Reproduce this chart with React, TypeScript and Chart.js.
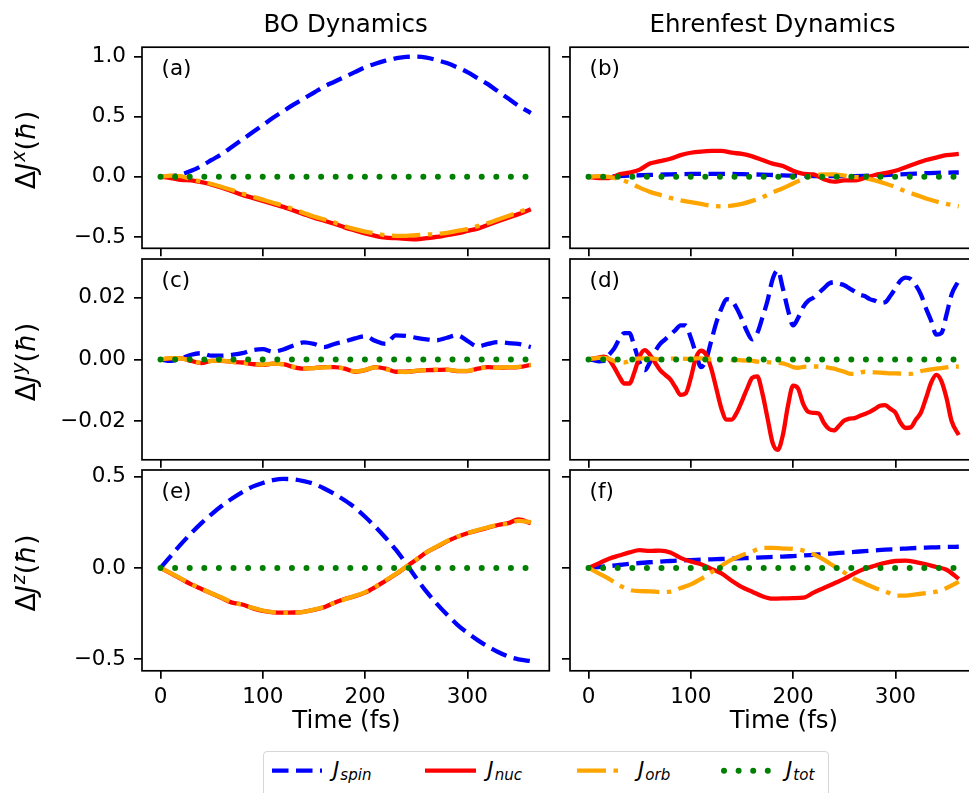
import React, { useEffect, useRef } from "react";
import { Chart, registerables } from "chart.js";

Chart.register(...registerables);
Chart.defaults.font.family = "'DejaVu Sans', sans-serif";

// ---------------- data ----------------
const T10 = [0, 10, 20, 30, 40, 50, 60, 70, 80, 90, 100, 110, 120, 130, 140, 150, 160, 170, 180, 190, 200, 210, 220, 230, 240, 250, 260, 270, 280, 290, 300, 310, 320, 330, 340, 350, 362];
const T5 = [0, 5, 10, 15, 20, 25, 30, 35, 40, 45, 50, 55, 60, 65, 70, 75, 80, 85, 90, 95, 100, 105, 110, 115, 120, 125, 130, 135, 140, 145, 150, 155, 160, 165, 170, 175, 180, 185, 190, 195, 200, 205, 210, 215, 220, 225, 230, 235, 240, 245, 250, 255, 260, 265, 270, 275, 280, 285, 290, 295, 300, 305, 310, 315, 320, 325, 330, 335, 340, 345, 350, 355, 362];

const TOT = [0, 0, 0, 0, 0, 0, 0, 0, 0, 0, 0, 0, 0, 0, 0, 0, 0, 0, 0, 0, 0, 0, 0, 0, 0, 0, 0, 0, 0, 0, 0, 0, 0, 0, 0, 0, 0];

// (a) BO, x
const aSpin = [0, 0.005, 0.02, 0.05, 0.09, 0.14, 0.19, 0.25, 0.31, 0.37, 0.43, 0.49, 0.545, 0.6, 0.65, 0.7, 0.75, 0.79, 0.83, 0.87, 0.91, 0.94, 0.965, 0.985, 0.997, 0.998, 0.99, 0.97, 0.945, 0.91, 0.87, 0.82, 0.77, 0.71, 0.65, 0.59, 0.53];
const aNuc = [0, -0.01, -0.025, -0.03, -0.045, -0.065, -0.09, -0.12, -0.15, -0.175, -0.2, -0.225, -0.25, -0.28, -0.31, -0.34, -0.365, -0.39, -0.42, -0.445, -0.47, -0.49, -0.505, -0.51, -0.515, -0.52, -0.51, -0.5, -0.485, -0.47, -0.45, -0.43, -0.4, -0.37, -0.34, -0.31, -0.27];
const aOrb = [0, 0.01, 0.005, -0.02, -0.04, -0.06, -0.085, -0.11, -0.14, -0.165, -0.19, -0.215, -0.24, -0.27, -0.3, -0.33, -0.355, -0.38, -0.41, -0.435, -0.455, -0.47, -0.485, -0.49, -0.49, -0.485, -0.48, -0.475, -0.465, -0.45, -0.435, -0.41, -0.385, -0.355, -0.325, -0.295, -0.255];

// (b) Ehrenfest, x
const bSpin = [0, 0, 0.003, 0.006, 0.01, 0.013, 0.016, 0.018, 0.02, 0.022, 0.024, 0.025, 0.025, 0.025, 0.024, 0.022, 0.02, 0.018, 0.015, 0.012, 0.01, 0.008, 0.006, 0.005, 0.005, 0.005, 0.006, 0.008, 0.011, 0.015, 0.019, 0.023, 0.027, 0.03, 0.033, 0.035, 0.036];
const bNuc = [0, -0.01, -0.01, 0.02, 0.035, 0.06, 0.11, 0.13, 0.15, 0.18, 0.2, 0.21, 0.215, 0.215, 0.2, 0.19, 0.17, 0.14, 0.11, 0.09, 0.05, 0.025, 0.02, -0.02, -0.04, -0.03, -0.03, -0.01, 0.015, 0.03, 0.05, 0.08, 0.11, 0.14, 0.16, 0.18, 0.19];
const bOrb = [0, 0.005, 0, -0.02, -0.05, -0.09, -0.125, -0.15, -0.175, -0.195, -0.21, -0.225, -0.24, -0.245, -0.24, -0.225, -0.2, -0.17, -0.13, -0.095, -0.055, -0.02, 0.01, 0.02, 0.02, 0.01, 0, -0.01, -0.03, -0.055, -0.085, -0.12, -0.15, -0.18, -0.205, -0.225, -0.245];

// (c) BO, y
const cSpin = [0, -0.0005, 0.0003, 0.0015, 0.002, 0.0012, 0.0012, 0.0015, 0.002, 0.003, 0.0033, 0.0025, 0.0032, 0.0045, 0.0055, 0.005, 0.004, 0.005, 0.0058, 0.0068, 0.0075, 0.006, 0.005, 0.0078, 0.0076, 0.007, 0.0065, 0.0062, 0.007, 0.0078, 0.006, 0.0042, 0.005, 0.0056, 0.0053, 0.005, 0.004];
const cNuc = [0, 0.0003, 0.0003, -0.0005, -0.0012, -0.0005, -0.0005, -0.0008, -0.001, -0.0015, -0.0018, -0.0014, -0.0015, -0.0025, -0.003, -0.0028, -0.0025, -0.0025, -0.003, -0.004, -0.0035, -0.0025, -0.003, -0.004, -0.004, -0.0037, -0.0035, -0.0034, -0.0033, -0.0038, -0.0038, -0.003, -0.0025, -0.0027, -0.0026, -0.0025, -0.0018];
const cOrb = [0, 0.0004, 0.0003, -0.0004, -0.0011, -0.0005, -0.0004, -0.0008, -0.0011, -0.0015, -0.0017, -0.0014, -0.0016, -0.0024, -0.0029, -0.0028, -0.0026, -0.0024, -0.003, -0.0039, -0.0034, -0.0026, -0.0031, -0.0039, -0.0041, -0.0036, -0.0035, -0.0033, -0.0033, -0.0037, -0.0037, -0.003, -0.0026, -0.0027, -0.0025, -0.0024, -0.0018];

// (d) Ehrenfest, y  (sampled every 5 fs)
const dSpin = [0, -0.0002, -0.0006, -0.0005, 0.0015, 0.0035, 0.0065, 0.0085, 0.0085, 0.004, -0.001, -0.0035, -0.001, 0.0025, 0.005, 0.0065, 0.008, 0.0095, 0.011, 0.011, 0.007, 0.002, -0.0025, 0.0, 0.006, 0.012, 0.0165, 0.0195, 0.019, 0.0165, 0.013, 0.009, 0.0065, 0.0085, 0.0135, 0.019, 0.026, 0.0288, 0.023, 0.016, 0.011, 0.0135, 0.017, 0.019, 0.02, 0.0215, 0.023, 0.0245, 0.025, 0.0245, 0.024, 0.023, 0.022, 0.021, 0.0205, 0.0195, 0.019, 0.0183, 0.0185, 0.0205, 0.023, 0.0255, 0.0265, 0.026, 0.024, 0.021, 0.0165, 0.0125, 0.008, 0.0085, 0.0145, 0.021, 0.0255];
const dNuc = [0, 0.0003, 0.0006, 0.0009, 0.0, -0.0025, -0.0055, -0.0078, -0.0078, -0.004, 0.001, 0.003, 0.0015, -0.001, -0.0035, -0.005, -0.0065, -0.009, -0.0115, -0.011, -0.006, 0.0005, 0.0028, 0.0015, -0.003, -0.0095, -0.016, -0.0195, -0.0195, -0.0172, -0.0135, -0.0095, -0.006, -0.0055, -0.011, -0.019, -0.027, -0.0293, -0.0245, -0.015, -0.0085, -0.0095, -0.0145, -0.017, -0.0173, -0.0175, -0.0205, -0.0225, -0.023, -0.0215, -0.0198, -0.0192, -0.019, -0.0183, -0.0177, -0.017, -0.016, -0.015, -0.0148, -0.016, -0.0172, -0.0205, -0.0222, -0.022, -0.0195, -0.0172, -0.0125, -0.0075, -0.005, -0.007, -0.0125, -0.02, -0.0245];
const dOrb = [0, 0.0003, 0.0005, 0.0005, 0.0002, -0.0005, -0.001, -0.001, -0.0005, 0.0001, 0.0003, 0.0003, 0.0003, 0.0002, 0, 0, 0.0002, 0.0003, 0.0003, 0.0002, 0.0002, 0.0003, 0.0003, 0.0002, 0, 0, 0, 0, -0.0002, -0.0002, -0.0003, -0.0004, -0.0005, -0.0007, -0.0008, -0.0009, -0.001, -0.0011, -0.0013, -0.0018, -0.0025, -0.0027, -0.0024, -0.0023, -0.0023, -0.0023, -0.0024, -0.0027, -0.003, -0.0035, -0.004, -0.0046, -0.0047, -0.0043, -0.004, -0.0041, -0.0042, -0.0043, -0.0044, -0.0045, -0.0045, -0.0046, -0.0047, -0.0047, -0.0043, -0.0038, -0.0035, -0.0032, -0.003, -0.0028, -0.0026, -0.0024, -0.0023];

// (e) BO, z
const eSpin = [0, 0.065, 0.13, 0.19, 0.245, 0.295, 0.34, 0.38, 0.415, 0.445, 0.465, 0.48, 0.487, 0.485, 0.475, 0.46, 0.435, 0.405, 0.37, 0.33, 0.28, 0.225, 0.165, 0.1, 0.025, -0.055, -0.13, -0.195, -0.255, -0.31, -0.355, -0.395, -0.43, -0.46, -0.485, -0.5, -0.51];
const eNuc = [0, -0.03, -0.06, -0.09, -0.115, -0.14, -0.165, -0.19, -0.2, -0.22, -0.235, -0.243, -0.245, -0.244, -0.24, -0.23, -0.215, -0.19, -0.17, -0.155, -0.135, -0.105, -0.07, -0.035, 0.005, 0.045, 0.085, 0.115, 0.145, 0.17, 0.19, 0.205, 0.22, 0.235, 0.245, 0.265, 0.245];
const eOrb = [0, -0.028, -0.058, -0.088, -0.113, -0.14, -0.163, -0.188, -0.202, -0.218, -0.233, -0.242, -0.246, -0.245, -0.24, -0.228, -0.213, -0.19, -0.172, -0.153, -0.133, -0.103, -0.068, -0.033, 0.006, 0.046, 0.085, 0.117, 0.147, 0.17, 0.19, 0.207, 0.222, 0.237, 0.242, 0.258, 0.25];

// (f) Ehrenfest, z
const fSpin = [0, 0.005, 0.01, 0.016, 0.022, 0.027, 0.031, 0.035, 0.038, 0.041, 0.043, 0.045, 0.047, 0.049, 0.051, 0.053, 0.055, 0.058, 0.06, 0.062, 0.065, 0.068, 0.072, 0.076, 0.08, 0.084, 0.088, 0.092, 0.096, 0.1, 0.103, 0.106, 0.109, 0.111, 0.113, 0.115, 0.116];
const fNuc = [0, 0.025, 0.05, 0.068, 0.085, 0.097, 0.093, 0.095, 0.085, 0.055, 0.035, 0.02, -0.005, -0.03, -0.07, -0.105, -0.13, -0.155, -0.168, -0.167, -0.165, -0.163, -0.135, -0.11, -0.085, -0.06, -0.03, -0.005, 0.012, 0.028, 0.038, 0.04, 0.032, 0.02, 0.005, -0.01, -0.06];
const fOrb = [0, -0.03, -0.06, -0.095, -0.12, -0.127, -0.128, -0.132, -0.13, -0.11, -0.09, -0.06, -0.025, 0.012, 0.045, 0.07, 0.09, 0.11, 0.11, 0.106, 0.104, 0.095, 0.075, 0.045, 0.01, -0.025, -0.06, -0.085, -0.11, -0.128, -0.15, -0.152, -0.145, -0.138, -0.13, -0.11, -0.075];

// axes
const X_RANGE = [-18.1, 380.1];
const X_TICKS = [0, 100, 200, 300];
const Y_RANGES = [[-0.594, 1.077], [-0.0325, 0.0325], [-0.563, 0.536]];
const Y_TICKS = [[-0.5, 0, 0.5, 1.0], [-0.02, 0, 0.02], [-0.5, 0, 0.5]];
const Y_DECIMALS = [1, 2, 1];
const COLUMN_TITLES = ["BO Dynamics", "Ehrenfest Dynamics"];
const Y_COMPONENTS = ["x", "y", "z"];
const PANEL_LETTERS = ["(a)", "(b)", "(c)", "(d)", "(e)", "(f)"];

// ---------------- layout ----------------
const COLS = [[142, 549.3], [570, 977.3]];
const ROWS = [[47.2, 248.3], [259, 459.8], [470, 670.8]];
const CW = 1000;
const CH = 800;
const FAM = "'DejaVu Sans', sans-serif";
const TICK_FS = 21.5;
const LABEL_FS = 24.5;
const YLABEL_FS = 27;

type Series = [number[], number[]];
interface PanelDef { row: number; col: number; spin: Series; nuc: Series; orb: Series; tot: Series; }

const PANELS: PanelDef[] = [
  { row: 0, col: 0, spin: [T10, aSpin], nuc: [T10, aNuc], orb: [T10, aOrb], tot: [T10, TOT] },
  { row: 0, col: 1, spin: [T10, bSpin], nuc: [T10, bNuc], orb: [T10, bOrb], tot: [T10, TOT] },
  { row: 1, col: 0, spin: [T10, cSpin], nuc: [T10, cNuc], orb: [T10, cOrb], tot: [T10, TOT] },
  { row: 1, col: 1, spin: [T5, dSpin], nuc: [T5, dNuc], orb: [T5, dOrb], tot: [T10, TOT] },
  { row: 2, col: 0, spin: [T10, eSpin], nuc: [T10, eNuc], orb: [T10, eOrb], tot: [T10, TOT] },
  { row: 2, col: 1, spin: [T10, fSpin], nuc: [T10, fNuc], orb: [T10, fOrb], tot: [T10, TOT] },
];

const boxPlugin = {
  id: "panelBox",
  afterDraw(chart: any) {
    const { left, top, right, bottom } = chart.chartArea;
    const ctx = chart.ctx;
    ctx.save();
    ctx.strokeStyle = "#000";
    ctx.lineWidth = 1.7;
    ctx.strokeRect(left, top, right - left, bottom - top);
    ctx.restore();
  },
};

function fmt(v: number, d: number) {
  const s = Math.abs(v).toFixed(d);
  return v < -1e-12 ? "\u2212" + s : s;
}

function PanelChart({ p }: { p: PanelDef }) {
  const ref = useRef<HTMLCanvasElement>(null);
  useEffect(() => {
    const [cl, cr] = COLS[p.col];
    const [rt, rb] = ROWS[p.row];
    const AXY = 120;
    const AXX = 45;
    const mk = (s: Series) => s[0].map((x, i) => ({ x, y: s[1][i] }));
    const tickGrid = {
      drawOnChartArea: false,
      drawTicks: true,
      tickLength: 8,
      tickWidth: 1.7,
      lineWidth: 1.7,
      color: "#000",
      tickColor: "#000",
    };
    const chart = new Chart(ref.current as HTMLCanvasElement, {
      type: "line",
      data: {
        datasets: [
          { data: mk(p.tot), borderColor: "#008000", borderWidth: 6, borderDash: [0, 14.6], borderCapStyle: "round", order: 0 },
          { data: mk(p.orb), borderColor: "#ffa500", borderWidth: 4.3, borderDash: [28.5, 7.5, 4.5, 7.5], order: 1 },
          { data: mk(p.nuc), borderColor: "#ff0000", borderWidth: 4.3, order: 2 },
          { data: mk(p.spin), borderColor: "#0000ff", borderWidth: 4.3, borderDash: [16.5, 7.5], order: 3 },
        ] as any,
      },
      options: {
        responsive: false,
        animation: false,
        events: [],
        layout: { padding: { left: cl - AXY, right: CW - cr, top: rt, bottom: CH - rb - AXX } },
        elements: { point: { radius: 0 }, line: { cubicInterpolationMode: "monotone", fill: false } },
        plugins: { legend: { display: false }, tooltip: { enabled: false } },
        scales: {
          x: {
            type: "linear",
            min: X_RANGE[0],
            max: X_RANGE[1],
            afterFit: (s: any) => { s.height = AXX; },
            afterBuildTicks: (s: any) => { s.ticks = X_TICKS.map((v) => ({ value: v })); },
            ticks: {
              display: p.row === 2,
              color: "#000",
              font: { size: TICK_FS, family: FAM },
              padding: 6,
              maxRotation: 0,
              autoSkip: false,
              callback: (v: any) => String(v),
            },
            grid: tickGrid,
            border: { display: false },
          },
          y: {
            type: "linear",
            min: Y_RANGES[p.row][0],
            max: Y_RANGES[p.row][1],
            afterFit: (s: any) => { s.width = AXY; },
            afterBuildTicks: (s: any) => { s.ticks = Y_TICKS[p.row].map((v) => ({ value: v })); },
            ticks: {
              display: p.col === 0,
              color: "#000",
              font: { size: TICK_FS, family: FAM },
              padding: 8,
              autoSkip: false,
              callback: (v: any) => fmt(Number(v), Y_DECIMALS[p.row]),
            },
            grid: tickGrid,
            border: { display: false },
          },
        },
      } as any,
      plugins: [boxPlugin],
    });
    return () => chart.destroy();
  }, [p]);
  return (
    <canvas
      ref={ref}
      width={CW}
      height={CH}
      style={{ position: "absolute", left: 0, top: 0, width: CW, height: CH }}
    />
  );
}

// text placed by baseline (line-height 1, DejaVu baseline at 0.846em)
function Txt({ x, baseline, fs, align = "left", children }: any) {
  return (
    <div
      style={{
        position: "absolute",
        left: x,
        top: baseline - 0.846 * fs,
        fontSize: fs,
        lineHeight: `${fs}px`,
        fontFamily: FAM,
        whiteSpace: "nowrap",
        color: "#000",
        transform: align === "center" ? "translateX(-50%)" : undefined,
      }}
    >
      {children}
    </div>
  );
}

function YLabel({ cx, cy, comp }: { cx: number; cy: number; comp: string }) {
  return (
    <div
      style={{
        position: "absolute",
        left: cx,
        top: cy,
        fontSize: YLABEL_FS,
        lineHeight: `${YLABEL_FS}px`,
        fontFamily: FAM,
        whiteSpace: "nowrap",
        transform: "translate(-50%, -50%) rotate(-90deg)",
      }}
    >
      Δ<i>J</i>
      <i style={{ fontSize: "0.7em", position: "relative", top: "-0.55em", marginLeft: 1 }}>{comp}</i>
      (<i>ħ</i>)
    </div>
  );
}

function LegendLabel({ x, sub }: { x: number; sub: string }) {
  return (
    <Txt x={x} baseline={776.7} fs={TICK_FS}>
      <i>J</i>
      <i style={{ fontSize: "0.7em", position: "relative", top: "0.22em", marginLeft: 1 }}>{sub}</i>
    </Txt>
  );
}

export default function App() {
  const yCenters = [150, 361.7, 573];
  const legendY = 770.7;
  return (
    <div
      style={{
        position: "fixed",
        left: 0,
        top: 0,
        width: 969,
        height: 793,
        overflow: "hidden",
        background: "#fff",
        fontFamily: FAM,
      }}
    >
      {PANELS.map((p, i) => (
        <PanelChart key={i} p={p} />
      ))}

      <Txt x={345.6} baseline={33} fs={LABEL_FS} align="center">{COLUMN_TITLES[0]}</Txt>
      <Txt x={772.5} baseline={33} fs={LABEL_FS} align="center">{COLUMN_TITLES[1]}</Txt>

      <Txt x={346.5} baseline={728.5} fs={LABEL_FS} align="center">Time (fs)</Txt>
      <Txt x={784} baseline={728.5} fs={LABEL_FS} align="center">Time (fs)</Txt>

      {Y_COMPONENTS.map((c, r) => (
        <YLabel key={c} cx={26.5} cy={yCenters[r]} comp={c} />
      ))}

      {PANELS.map((p, i) => (
        <Txt key={"l" + i} x={COLS[p.col][0] + 19.5} baseline={ROWS[p.row][0] + 28} fs={TICK_FS}>
          {PANEL_LETTERS[i]}
        </Txt>
      ))}

      {/* legend */}
      <div
        style={{
          position: "absolute",
          left: 263.3,
          top: 751,
          width: 566,
          height: 70,
          boxSizing: "border-box",
          border: "1.7px solid #d6d6d6",
          borderRadius: 4,
          background: "#fff",
        }}
      />
      <svg width={969} height={793} style={{ position: "absolute", left: 0, top: 0 }}>
        <line x1={272} y1={legendY} x2={322} y2={legendY} stroke="#0000ff" strokeWidth={4.3} strokeDasharray="16.5 7.5" />
        <line x1={425} y1={legendY} x2={476} y2={legendY} stroke="#ff0000" strokeWidth={4.3} />
        <line x1={577} y1={legendY} x2={622} y2={legendY} stroke="#ffa500" strokeWidth={4.3} strokeDasharray="29 7.5 4.5 7.5" />
        <line x1={724} y1={legendY} x2={770} y2={legendY} stroke="#008000" strokeWidth={6} strokeDasharray="0 14.6" strokeLinecap="round" />
      </svg>
      <LegendLabel x={333} sub="spin" />
      <LegendLabel x={487.3} sub="nuc" />
      <LegendLabel x={638} sub="orb" />
      <LegendLabel x={786} sub="tot" />
    </div>
  );
}
